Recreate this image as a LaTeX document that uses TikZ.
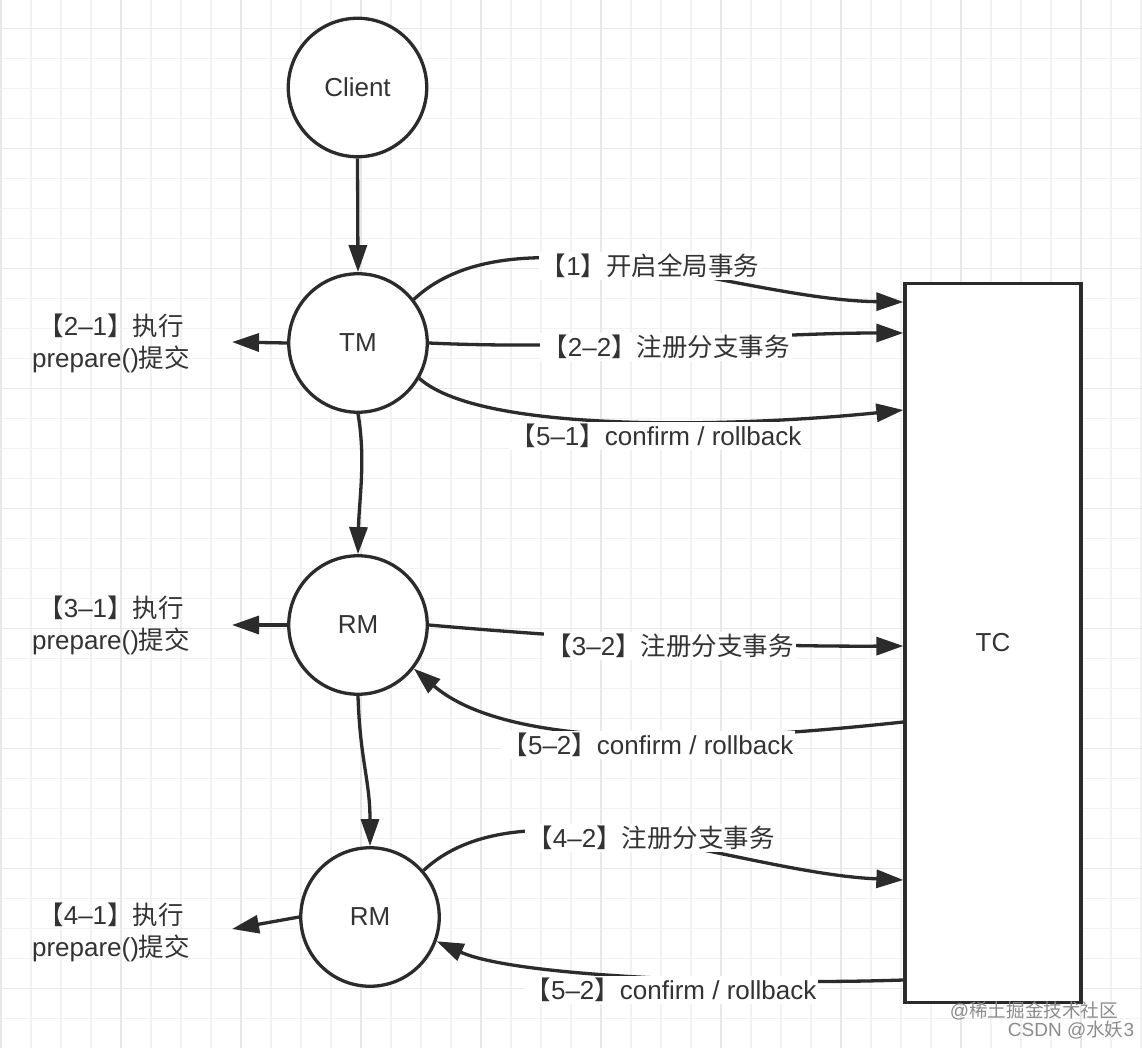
\documentclass[tikz,border=0pt]{standalone}
\usepackage{fontspec}
\setmainfont{Liberation Sans}
\newfontfamily\cjk[Scale=0.98]{Noto Sans CJK SC}
\newcommand\cj[1]{{\cjk #1}}
\usetikzlibrary{arrows.meta}
\definecolor{ink}{HTML}{333333}
\definecolor{wire}{HTML}{2B2B2B}
\definecolor{gminor}{HTML}{F2F2F2}
\definecolor{gmajor}{HTML}{E8E8E8}
\definecolor{wm}{HTML}{8C8C8C}
\begin{document}
\begin{tikzpicture}[x=1pt,y=-1pt,
  gridminor/.style={draw=gminor, line width=1.2pt},
  gridmajor/.style={draw=gmajor, line width=1.5pt},
  circ/.style={circle, draw=wire, line width=3.3pt, fill=white, minimum size=138.5pt, inner sep=0pt, text=ink, font=\fontsize{26}{30}\selectfont},
  tcbox/.style={rectangle, draw=wire, line width=3.3pt, fill=white, minimum width=176pt, minimum height=719.5pt, inner sep=0pt, text=ink, font=\fontsize{26}{30}\selectfont},
  lbl/.style={fill=white, inner sep=2pt, text=ink, font=\fontsize{26}{30}\selectfont},
  side/.style={text=ink, align=center, inner sep=0pt, font=\fontsize{26}{32}\selectfont},
  conn/.style={draw=wire, line width=3.3pt},
  arr/.style={conn, -{Triangle[length=27pt,width=18pt]}},
  wmark/.style={text=wm, inner sep=0pt, font=\fontsize{19}{22}\selectfont}
]
\fill[white] (0,0) rectangle (1142,1048);
\useasboundingbox (0,0) rectangle (1142,1048);
% grid
\foreach \xx in {1,31,...,1141} \draw[gridminor] (\xx,0) -- (\xx,1048);
\foreach \yy in {28.7,58.7,...,1040} \draw[gridminor] (0,\yy) -- (1142,\yy);
\foreach \xx in {1,121,...,1141} \draw[gridmajor] (\xx,0) -- (\xx,1048);
\foreach \yy in {28.7,148.7,...,1040} \draw[gridmajor] (0,\yy) -- (1142,\yy);

% nodes
\node[circ] (Client) at (357.5,87.5) {Client};
\node[circ] (TM) at (358,343) {TM};
\node[circ] (RM1) at (358,625) {RM};
\node[circ] (RM2) at (370,917) {RM};
\node[tcbox] (TC) at (993,643) {TC};

% attachment points on TC
\coordinate (t1) at ([yshift=341pt]TC.west);
\coordinate (t2) at ([yshift=310pt]TC.west);
\coordinate (t3) at ([yshift=233pt]TC.west);
\coordinate (t4) at ([yshift=-3pt]TC.west);
\coordinate (t5) at ([yshift=-79pt]TC.west);
\coordinate (t6) at ([yshift=-237pt]TC.west);
\coordinate (t7) at ([yshift=-337pt]TC.west);
\coordinate (e21) at (232,342);
\coordinate (e31) at (232,625);
\coordinate (e41) at (232,929);

% connectors
\draw[arr] (Client.south) -- (TM.north);
\draw[arr] (TM.west) -- (e21);
\draw[arr] (TM.38) .. controls (515,205) and (740,300) .. (t1);
\draw[arr] (TM.east) .. controls (600,351) and (750,333) .. (t2);
\draw[arr] (TM.-30) .. controls (485,437) and (760,425) .. (t3);
\draw[arr] (TM.south) .. controls (366,460) and (359,500) .. (RM1.north);
\draw[arr] (RM1.west) -- (e31);
\draw[arr] (RM1.east) .. controls (520,633) and (700,647) .. (t4);
\draw[arr] (t5) .. controls (780,735) and (520,760) .. (RM1.-38);
\draw[arr] (RM1.south) .. controls (360,760) and (370,780) .. (RM2.north);
\draw[arr] (RM2.west) -- (e41);
\draw[arr] (RM2.41) .. controls (523,778) and (740,873) .. (t6);
\draw[arr] (t7) .. controls (760,985) and (518,978) .. (RM2.-20);

% labels
\node[lbl] (L1) at (650,266) {\cj{【}1\cj{】开启全局事务}};
\node[lbl] (L22) at (666,347) {\cj{【}2–2\cj{】注册分支事务}};
\node[lbl] (L51) at (656,436) {\cj{【}5–1\cj{】}confirm / rollback};
\node[lbl] (L32) at (670,646) {\cj{【}3–2\cj{】注册分支事务}};
\node[lbl] (L52a) at (648,745) {\cj{【}5–2\cj{】}confirm / rollback};
\node[lbl] (L42) at (651,838) {\cj{【}4–2\cj{】注册分支事务}};
\node[lbl] (L52b) at (671,990) {\cj{【}5–2\cj{】}confirm / rollback};
\node[side] (L21) at (111,343) {\cj{【}2–1\cj{】执行}\\prepare()\cj{提交}};
\node[side] (L31) at (111,625) {\cj{【}3–1\cj{】执行}\\prepare()\cj{提交}};
\node[side] (L41) at (111,932) {\cj{【}4–1\cj{】执行}\\prepare()\cj{提交}};

% watermark
\node[wmark] (w1) at (1034,1011) {@\cj{稀土掘金技术社区}};
\node[wmark] (w2) at (1071,1030) {CSDN @\cj{水妖}3};
\end{tikzpicture}
\end{document}
